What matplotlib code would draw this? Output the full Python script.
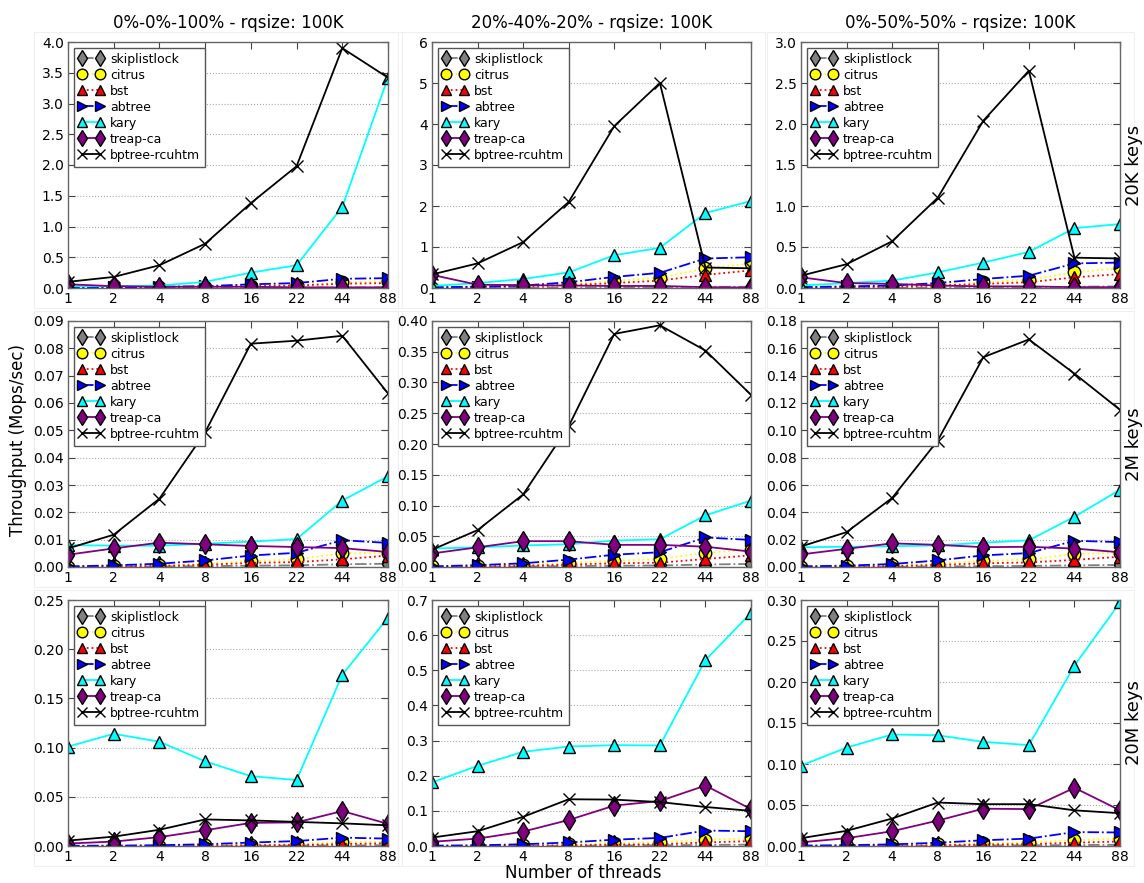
import numpy as np
import matplotlib
matplotlib.use('Agg')
import matplotlib.pyplot as plt

threads = ['1', '2', '4', '8', '16', '22', '44', '88']
algos = ['skiplistlock', 'citrus', 'bst', 'abtree', 'kary', 'treap-ca', 'bptree-rcuhtm']
workloads = ['0%-0%-100% - rqsize: 100K', '20%-40%-20% - rqsize: 100K', '0%-50%-50% - rqsize: 100K']
keysizes = ['20K keys', '2M keys', '20M keys']

# ---- 20K keys ----
k20k_w1_skip   = [0.002, 0.002, 0.003, 0.004, 0.005, 0.006, 0.008, 0.009]
k20k_w1_citrus = [0.01, 0.01, 0.01, 0.02, 0.03, 0.05, 0.09, 0.11]
k20k_w1_bst    = [0.005, 0.01, 0.01, 0.02, 0.03, 0.04, 0.07, 0.08]
k20k_w1_abtree = [0.01, 0.01, 0.02, 0.03, 0.06, 0.08, 0.15, 0.16]
k20k_w1_kary   = [0.03, 0.03, 0.04, 0.10, 0.25, 0.37, 1.32, 3.42]
k20k_w1_treap  = [0.06, 0.03, 0.02, 0.02, 0.02, 0.01, 0.01, 0.01]
k20k_w1_bptree = [0.10, 0.18, 0.37, 0.72, 1.38, 1.98, 3.90, 3.42]

k20k_w2_skip   = [0.005, 0.005, 0.01, 0.01, 0.02, 0.02, 0.03, 0.03]
k20k_w2_citrus = [0.01, 0.02, 0.05, 0.10, 0.18, 0.25, 0.48, 0.60]
k20k_w2_bst    = [0.01, 0.02, 0.04, 0.07, 0.12, 0.18, 0.32, 0.43]
k20k_w2_abtree = [0.02, 0.03, 0.06, 0.14, 0.27, 0.37, 0.72, 0.75]
k20k_w2_kary   = [0.05, 0.12, 0.22, 0.38, 0.80, 0.98, 1.83, 2.12]
k20k_w2_treap  = [0.32, 0.08, 0.07, 0.06, 0.05, 0.05, 0.02, 0.01]
k20k_w2_bptree = [0.33, 0.60, 1.12, 2.10, 3.95, 5.00, 0.50, 0.48]

k20k_w3_skip   = [0.002, 0.003, 0.004, 0.006, 0.008, 0.01, 0.015, 0.02]
k20k_w3_citrus = [0.01, 0.01, 0.02, 0.04, 0.07, 0.10, 0.19, 0.24]
k20k_w3_bst    = [0.005, 0.01, 0.015, 0.03, 0.05, 0.07, 0.13, 0.17]
k20k_w3_abtree = [0.01, 0.02, 0.03, 0.06, 0.11, 0.15, 0.30, 0.31]
k20k_w3_kary   = [0.03, 0.06, 0.09, 0.19, 0.31, 0.44, 0.73, 0.78]
k20k_w3_treap  = [0.13, 0.06, 0.05, 0.03, 0.02, 0.02, 0.01, 0.01]
k20k_w3_bptree = [0.15, 0.29, 0.57, 1.10, 2.04, 2.65, 0.37, 0.36]

# ---- 2M keys ----
k2m_w1_skip   = [0.0001, 0.0001, 0.0002, 0.0003, 0.0005, 0.0006, 0.001, 0.0012]
k2m_w1_citrus = [0.0001, 0.0003, 0.0006, 0.0012, 0.0022, 0.0028, 0.0050, 0.0052]
k2m_w1_bst    = [0.0001, 0.0002, 0.0004, 0.0008, 0.0015, 0.0018, 0.0028, 0.0042]
k2m_w1_abtree = [0.0002, 0.0006, 0.0012, 0.0024, 0.0042, 0.0052, 0.0098, 0.0088]
k2m_w1_kary   = [0.0080, 0.0078, 0.0078, 0.0085, 0.0093, 0.0102, 0.0243, 0.0332]
k2m_w1_treap  = [0.0045, 0.0068, 0.0089, 0.0083, 0.0077, 0.0073, 0.0069, 0.0055]
k2m_w1_bptree = [0.0068, 0.0118, 0.0250, 0.0493, 0.0817, 0.0828, 0.0846, 0.0635]

k2m_w2_skip   = [0.0002, 0.0004, 0.0008, 0.0015, 0.002, 0.0025, 0.004, 0.005]
k2m_w2_citrus = [0.001, 0.002, 0.004, 0.007, 0.010, 0.013, 0.023, 0.028]
k2m_w2_bst    = [0.0005, 0.001, 0.002, 0.004, 0.006, 0.007, 0.013, 0.019]
k2m_w2_abtree = [0.001, 0.003, 0.006, 0.012, 0.020, 0.024, 0.048, 0.044]
k2m_w2_kary   = [0.030, 0.032, 0.035, 0.037, 0.043, 0.045, 0.084, 0.108]
k2m_w2_treap  = [0.022, 0.032, 0.042, 0.042, 0.036, 0.036, 0.033, 0.025]
k2m_w2_bptree = [0.028, 0.060, 0.118, 0.229, 0.379, 0.393, 0.352, 0.280]

k2m_w3_skip   = [0.0001, 0.0001, 0.0002, 0.0004, 0.0006, 0.0008, 0.0012, 0.0015]
k2m_w3_citrus = [0.0002, 0.0006, 0.0012, 0.0025, 0.0045, 0.0055, 0.0095, 0.0105]
k2m_w3_bst    = [0.0001, 0.0003, 0.0007, 0.0015, 0.0027, 0.0033, 0.0052, 0.0075]
k2m_w3_abtree = [0.0005, 0.0010, 0.0022, 0.0048, 0.0085, 0.0102, 0.0192, 0.0182]
k2m_w3_kary   = [0.0145, 0.0148, 0.0152, 0.0158, 0.0178, 0.0195, 0.0368, 0.0565]
k2m_w3_treap  = [0.0092, 0.0133, 0.0173, 0.0162, 0.0145, 0.0148, 0.0135, 0.0108]
k2m_w3_bptree = [0.0150, 0.0255, 0.0505, 0.0925, 0.1535, 0.1665, 0.1415, 0.1150]

# ---- 20M keys ----
k20m_w1_skip   = [0.00005, 0.0001, 0.0001, 0.0002, 0.0003, 0.0004, 0.0006, 0.0008]
k20m_w1_citrus = [0.0001, 0.0002, 0.0004, 0.0008, 0.0015, 0.0020, 0.0040, 0.0045]
k20m_w1_bst    = [0.00005, 0.0001, 0.0002, 0.0004, 0.0008, 0.0010, 0.0020, 0.0028]
k20m_w1_abtree = [0.0002, 0.0004, 0.0008, 0.0018, 0.0035, 0.0050, 0.0085, 0.0075]
k20m_w1_kary   = [0.101, 0.114, 0.106, 0.086, 0.071, 0.067, 0.174, 0.232]
k20m_w1_treap  = [0.0025, 0.0045, 0.0090, 0.0160, 0.0235, 0.0240, 0.0355, 0.0225]
k20m_w1_bptree = [0.0055, 0.0095, 0.0165, 0.0270, 0.0260, 0.0245, 0.0230, 0.0210]

k20m_w2_skip   = [0.0001, 0.0002, 0.0004, 0.0008, 0.0015, 0.002, 0.003, 0.004]
k20m_w2_citrus = [0.0005, 0.001, 0.002, 0.005, 0.009, 0.011, 0.018, 0.022]
k20m_w2_bst    = [0.0002, 0.0005, 0.001, 0.002, 0.004, 0.005, 0.010, 0.014]
k20m_w2_abtree = [0.001, 0.002, 0.005, 0.010, 0.018, 0.023, 0.044, 0.042]
k20m_w2_kary   = [0.181, 0.228, 0.268, 0.283, 0.287, 0.286, 0.529, 0.663]
k20m_w2_treap  = [0.012, 0.021, 0.041, 0.074, 0.115, 0.128, 0.172, 0.105]
k20m_w2_bptree = [0.024, 0.042, 0.083, 0.133, 0.132, 0.125, 0.111, 0.100]

k20m_w3_skip   = [0.00005, 0.0001, 0.0002, 0.0004, 0.0006, 0.0008, 0.0012, 0.0015]
k20m_w3_citrus = [0.0002, 0.0005, 0.0010, 0.0020, 0.0035, 0.0045, 0.0070, 0.0090]
k20m_w3_bst    = [0.0001, 0.0002, 0.0005, 0.0010, 0.0018, 0.0023, 0.0040, 0.0055]
k20m_w3_abtree = [0.0005, 0.0010, 0.0020, 0.0040, 0.0070, 0.0090, 0.0170, 0.0165]
k20m_w3_kary   = [0.098, 0.120, 0.136, 0.135, 0.127, 0.123, 0.220, 0.297]
k20m_w3_treap  = [0.0045, 0.0095, 0.0180, 0.0310, 0.0455, 0.0450, 0.0710, 0.0435]
k20m_w3_bptree = [0.0095, 0.0185, 0.0335, 0.0530, 0.0510, 0.0510, 0.0435, 0.0400]

panels = [
    [[k20k_w1_skip, k20k_w1_citrus, k20k_w1_bst, k20k_w1_abtree, k20k_w1_kary, k20k_w1_treap, k20k_w1_bptree],
     [k20k_w2_skip, k20k_w2_citrus, k20k_w2_bst, k20k_w2_abtree, k20k_w2_kary, k20k_w2_treap, k20k_w2_bptree],
     [k20k_w3_skip, k20k_w3_citrus, k20k_w3_bst, k20k_w3_abtree, k20k_w3_kary, k20k_w3_treap, k20k_w3_bptree]],
    [[k2m_w1_skip, k2m_w1_citrus, k2m_w1_bst, k2m_w1_abtree, k2m_w1_kary, k2m_w1_treap, k2m_w1_bptree],
     [k2m_w2_skip, k2m_w2_citrus, k2m_w2_bst, k2m_w2_abtree, k2m_w2_kary, k2m_w2_treap, k2m_w2_bptree],
     [k2m_w3_skip, k2m_w3_citrus, k2m_w3_bst, k2m_w3_abtree, k2m_w3_kary, k2m_w3_treap, k2m_w3_bptree]],
    [[k20m_w1_skip, k20m_w1_citrus, k20m_w1_bst, k20m_w1_abtree, k20m_w1_kary, k20m_w1_treap, k20m_w1_bptree],
     [k20m_w2_skip, k20m_w2_citrus, k20m_w2_bst, k20m_w2_abtree, k20m_w2_kary, k20m_w2_treap, k20m_w2_bptree],
     [k20m_w3_skip, k20m_w3_citrus, k20m_w3_bst, k20m_w3_abtree, k20m_w3_kary, k20m_w3_treap, k20m_w3_bptree]],
]

# y-axis (max, step) per panel
ylims = [[(4.0, 0.5), (6, 1), (3.0, 0.5)],
         [(0.09, 0.01), (0.40, 0.05), (0.18, 0.02)],
         [(0.25, 0.05), (0.7, 0.1), (0.30, 0.05)]]
yfmt = [['%.1f', '%d', '%.1f'],
        ['%.2f', '%.2f', '%.2f'],
        ['%.2f', '%.1f', '%.2f']]

# style per algorithm: color, marker, linestyle
styles = [('#808080', 'd', '-.'),
          ('#ffff00', 'o', ':'),
          ('#ff0000', '^', ':'),
          ('#0000ff', '>', '-.'),
          ('#00ffff', '^', '-'),
          ('#800080', 'd', '-'),
          ('#000000', 'x', '-')]

W, H = 1144, 883
fig = plt.figure(figsize=(W / 100, H / 100), dpi=100)

col_left = [68, 432, 801]
col_right = [388, 751, 1120]
row_top = [42, 321, 600]
row_bot = [288, 567, 846]

# faint frames of the individual panel images
for r, (t, b) in enumerate(zip(row_top, row_bot)):
    for c, (l, rr) in enumerate(zip(col_left, col_right)):
        x0, x1 = l - 34, rr + 14
        y0, y1 = t - 10, b + 20
        fig.add_artist(plt.Rectangle((x0 / W, 1 - y1 / H), (x1 - x0) / W, (y1 - y0) / H,
                                     transform=fig.transFigure, fill=False,
                                     edgecolor='#efefef', linewidth=0.8, zorder=0))

x = np.arange(len(threads))
for r in range(3):
    for c in range(3):
        l, rr, t, b = col_left[c], col_right[c], row_top[r], row_bot[r]
        ax = fig.add_axes([l / W, 1 - b / H, (rr - l) / W, (b - t) / H])
        for name, vals, (col, mk, ls) in zip(algos, panels[r][c], styles):
            ms = 9 if mk in ('^', '>', 'o', 'x') else 10
            ax.plot(x, vals, color=col, marker=mk, linestyle=ls, linewidth=1.3,
                    markersize=ms, markeredgecolor='black', markeredgewidth=1.0,
                    label=name)
        ymax, step = ylims[r][c]
        ax.set_ylim(0, ymax)
        ax.set_yticks(np.arange(0, ymax + step / 2, step))
        ax.yaxis.set_major_formatter(matplotlib.ticker.FormatStrFormatter(yfmt[r][c]))
        ax.set_xlim(0, len(threads) - 1)
        ax.set_xticks(x)
        ax.set_xticklabels(threads)
        ax.tick_params(direction='in', top=True, right=True, length=5, width=0.8,
                       labelsize=10, color='#444444', pad=3)
        ax.grid(axis='y', linestyle=':', color='#aaaaaa', linewidth=0.8)
        for sp in ax.spines.values():
            sp.set_color('#666666')
            sp.set_linewidth(1.0)
        leg = ax.legend(loc='upper left', numpoints=2, fontsize=9, fancybox=False,
                        handlelength=2.0, handletextpad=0.5, labelspacing=0.24,
                        borderaxespad=0.45, borderpad=0.4, markerscale=0.85,
                        framealpha=1)
        leg.get_frame().set_edgecolor('#555555')
        leg.get_frame().set_linewidth(1.0)
        if r == 0:
            ax.set_title(workloads[c], fontsize=12, pad=10)
        if c == 2:
            ax.text(1.045, 0.5, keysizes[r], rotation=90, transform=ax.transAxes,
                    ha='center', va='center', fontsize=13)

fig.text(18 / W, 1 - 440 / H, 'Throughput (Mops/sec)', rotation=90,
         ha='center', va='center', fontsize=12)
fig.text(583 / W, 1 - 873 / H, 'Number of threads', ha='center', va='center', fontsize=12)

fig.savefig('out.png', dpi=100)
